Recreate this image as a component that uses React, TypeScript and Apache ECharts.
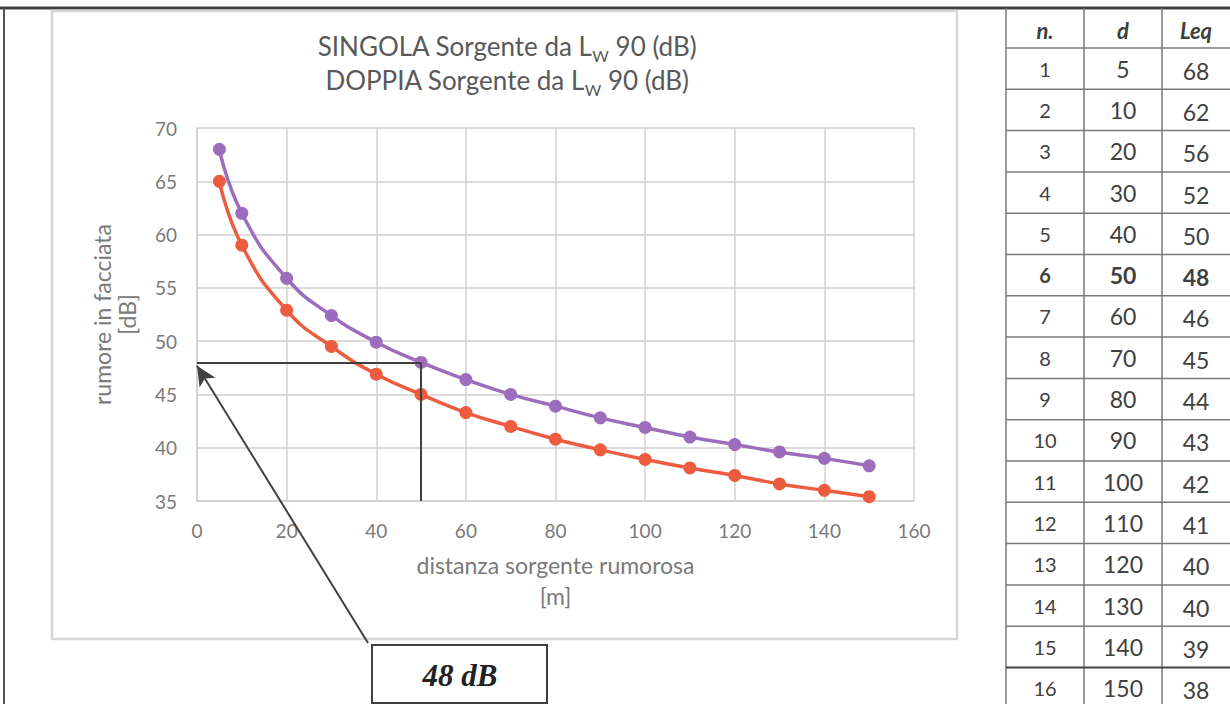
import React, { useEffect, useRef } from "react";
import * as echarts from "echarts";

const distances = [5, 10, 20, 30, 40, 50, 60, 70, 80, 90, 100, 110, 120, 130, 140, 150];
const doppia = [68.0, 62.0, 55.9, 52.4, 49.9, 48.0, 46.4, 45.0, 43.9, 42.8, 41.9, 41.0, 40.3, 39.6, 39.0, 38.3];
const singola = [65.0, 59.0, 52.9, 49.5, 46.9, 45.0, 43.3, 42.0, 40.8, 39.8, 38.9, 38.1, 37.4, 36.6, 36.0, 35.4];

const tableHeader = ["n.", "d", "Leq"];
const tableN = [1, 2, 3, 4, 5, 6, 7, 8, 9, 10, 11, 12, 13, 14, 15, 16];
const tableD = [5, 10, 20, 30, 40, 50, 60, 70, 80, 90, 100, 110, 120, 130, 140, 150];
const tableLeq = [68, 62, 56, 52, 50, 48, 46, 45, 44, 43, 42, 41, 40, 40, 39, 38];
const highlightRow = 6;

const highlightD = 50;
const highlightLeq = 48;
const boxLabel = "48 dB";

const FONT = "Lato, 'Open Sans', sans-serif";

function buildTable() {
  const els: any[] = [];
  const colX = [1006, 1084, 1162];
  const colC = [1045, 1123, 1196];
  const headTop = 8;
  const headBot = 48;
  const rowH = 41.3;
  for (const x of colX) {
    els.push({
      type: "line",
      shape: { x1: x, y1: headTop, x2: x, y2: 704 },
      style: { stroke: "#7a7a7a", lineWidth: 1.5 },
    });
  }
  for (let i = 0; i < tableN.length; i++) {
    const y = headBot + rowH * i;
    els.push({
      type: "line",
      shape: { x1: 1006, y1: y, x2: 1230, y2: y },
      style: { stroke: i === tableN.length - 1 ? "#444" : "#7a7a7a", lineWidth: i === tableN.length - 1 ? 2 : 1.5 },
    });
  }
  tableHeader.forEach((h, c) => {
    els.push({
      type: "text",
      x: colC[c],
      y: 30,
      style: {
        text: h,
        fontFamily: FONT,
        fontSize: 22,
        fontStyle: "italic",
        fontWeight: "bold",
        fill: "#404040",
        align: "center",
        verticalAlign: "middle",
      },
    });
  });
  for (let i = 0; i < tableN.length; i++) {
    const yc = headBot + rowH * i + rowH / 2;
    const vals = [tableN[i], tableD[i], tableLeq[i]];
    const bold = tableN[i] === highlightRow;
    vals.forEach((v, c) => {
      els.push({
        type: "text",
        x: colC[c],
        y: yc + (c === 2 ? 2 : 0),
        style: {
          text: String(v),
          fontFamily: FONT,
          fontSize: c === 0 ? 20 : 23,
          fontWeight: bold ? "bold" : "normal",
          fill: "#404040",
          align: "center",
          verticalAlign: "middle",
        },
      });
    });
  }
  return els;
}

export default function App() {
  const ref = useRef<HTMLDivElement>(null);
  useEffect(() => {
    if (!ref.current) return;
    const chart = echarts.init(ref.current, null, { renderer: "svg" });
    const labelColor = "#7a7a7a";
    const option: any = {
      animation: false,
      backgroundColor: "#ffffff",
      title: {
        left: 502,
        top: 24,
        textAlign: "center",
        text:
          "{a|SINGOLA Sorgente da L}{s|W}{a| 90 (dB)}\n{a|DOPPIA Sorgente da L}{s|W}{a| 90 (dB)}",
        textStyle: {
          fontWeight: "normal",
          rich: {
            a: { fontFamily: FONT, fontSize: 26, fontWeight: "normal", lineHeight: 34, color: "#595959" },
            s: { fontFamily: FONT, fontSize: 16, fontWeight: "normal", lineHeight: 22, color: "#595959", verticalAlign: "bottom" },
          },
        },
      },
      grid: { left: 197, right: 316, top: 128, bottom: 203 },
      xAxis: {
        type: "value",
        min: 0,
        max: 160,
        interval: 20,
        name: "distanza sorgente rumorosa\n[m]",
        nameLocation: "middle",
        nameGap: 48,
        nameTextStyle: { fontFamily: FONT, fontSize: 23, color: labelColor, lineHeight: 31 },
        axisLine: { show: true, lineStyle: { color: "#d0d0d0", width: 1.5 } },
        axisTick: { show: false },
        axisLabel: { fontFamily: FONT, fontSize: 19, color: labelColor, margin: 20 },
        splitLine: { show: true, lineStyle: { color: "#d0d0d0", width: 1.5 } },
      },
      yAxis: {
        type: "value",
        min: 35,
        max: 70,
        interval: 5,
        name: "rumore in facciata\n[dB]",
        nameLocation: "middle",
        nameGap: 58,
        nameTextStyle: { fontFamily: FONT, fontSize: 23, color: labelColor, lineHeight: 25 },
        axisLine: { show: true, lineStyle: { color: "#d0d0d0", width: 1.5 } },
        axisTick: { show: false },
        axisLabel: { fontFamily: FONT, fontSize: 19, color: labelColor, margin: 20 },
        splitLine: { show: true, lineStyle: { color: "#d0d0d0", width: 1.5 } },
      },
      series: [
        {
          name: "DOPPIA Sorgente",
          type: "line",
          smooth: true,
          symbol: "circle",
          symbolSize: 13,
          clip: false,
          data: distances.map((d, i) => [d, doppia[i]]),
          itemStyle: { color: "#9c6cbd" },
          lineStyle: { color: "#9c6cbd", width: 3.5 },
          markLine: {
            silent: true,
            symbol: ["none", "none"],
            label: { show: false },
            lineStyle: { color: "#404040", width: 2, type: "solid" },
            data: [
              [{ coord: [0, highlightLeq] }, { coord: [highlightD, highlightLeq] }],
              [{ coord: [highlightD, highlightLeq] }, { coord: [highlightD, 35] }],
            ],
          },
        },
        {
          name: "SINGOLA Sorgente",
          type: "line",
          smooth: true,
          symbol: "circle",
          symbolSize: 13,
          clip: false,
          data: distances.map((d, i) => [d, singola[i]]),
          itemStyle: { color: "#ee5c40" },
          lineStyle: { color: "#ee5c40", width: 3.5 },
          markLine: {
            silent: true,
            symbol: ["none", "arrow"],
            symbolSize: [14, 20],
            label: { show: false },
            lineStyle: { color: "#404040", width: 2, type: "solid" },
            data: [[{ x: 368, y: 643 }, { coord: [0, highlightLeq - 0.3] }]],
          },
        },
      ],
      graphic: [
        { type: "line", shape: { x1: 0, y1: 8, x2: 1230, y2: 8 }, style: { stroke: "#404040", lineWidth: 3 } },
        { type: "line", shape: { x1: 4, y1: 8, x2: 4, y2: 704 }, style: { stroke: "#555", lineWidth: 2 } },
        {
          type: "rect",
          shape: { x: 52, y: 11, width: 905, height: 628 },
          style: { stroke: "#d6d6d6", lineWidth: 2.5, fill: "none" },
        },
        {
          type: "rect",
          shape: { x: 372, y: 645, width: 175, height: 58 },
          style: { stroke: "#404040", lineWidth: 2, fill: "#fff" },
        },
        {
          type: "text",
          x: 460,
          y: 675,
          style: {
            text: boxLabel,
            fontFamily: "'Liberation Serif', serif",
            fontSize: 31,
            fontStyle: "italic",
            fontWeight: "bold",
            fill: "#222",
            align: "center",
            verticalAlign: "middle",
          },
        },
        ...buildTable(),
      ],
    };
    chart.setOption(option);
    return () => chart.dispose();
  }, []);
  return (
    <div
      ref={ref}
      style={{ position: "fixed", left: 0, top: 0, width: 1230, height: 704, background: "#fff" }}
    />
  );
}
